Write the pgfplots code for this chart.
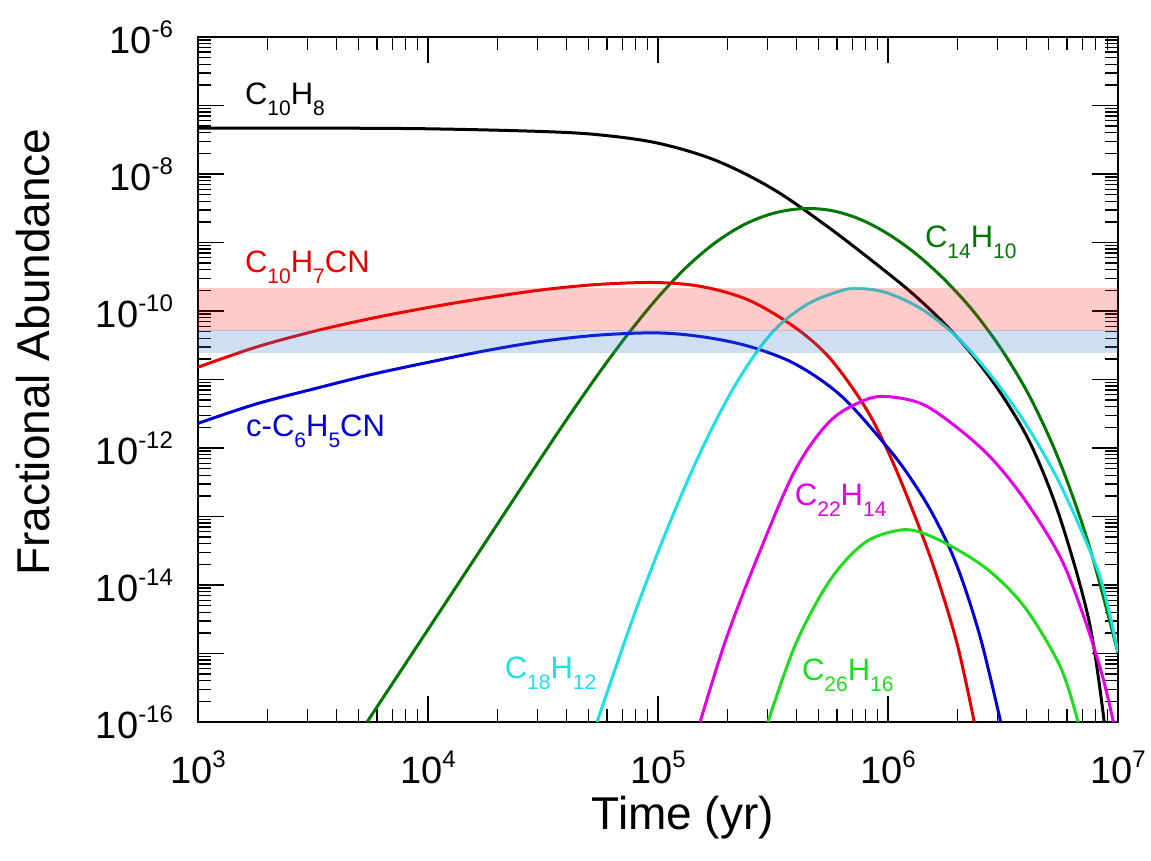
\documentclass[border=0pt]{standalone}
\usepackage{pgfplots}
\pgfplotsset{compat=1.18}
\usepackage{fontspec}
\setmainfont{Liberation Sans}

\definecolor{cdgreen}{RGB}{0,120,0}
\definecolor{cred}{RGB}{232,0,0}
\definecolor{cblue}{RGB}{0,0,215}
\definecolor{ccyan}{RGB}{30,225,230}
\definecolor{cmag}{RGB}{230,0,230}
\definecolor{clgreen}{RGB}{30,220,30}
\definecolor{bandred}{RGB}{250,20,20}
\definecolor{bandblue}{RGB}{60,130,200}

% tick label / species label helpers
\newcommand\tsup[1]{\raisebox{8pt}{\fontsize{12}{14}\selectfont #1}}
\newcommand\tsub[1]{\raisebox{-5.5pt}{\fontsize{10.5}{12}\selectfont #1}}

\begin{document}
\begin{tikzpicture}
\begin{axis}[
    scale only axis,
    width=460pt, height=342.5pt,
    xmode=log, ymode=log,
    xmin=1e3, xmax=1e7,
    ymin=1e-16, ymax=1e-6,
    xtick={1e3,1e4,1e5,1e6,1e7},
    xticklabels={10\tsup{3},10\tsup{4},10\tsup{5},10\tsup{6},10\tsup{7}},
    minor xtick={2e3,3e3,4e3,5e3,6e3,7e3,8e3,9e3,
                 2e4,3e4,4e4,5e4,6e4,7e4,8e4,9e4,
                 2e5,3e5,4e5,5e5,6e5,7e5,8e5,9e5,
                 2e6,3e6,4e6,5e6,6e6,7e6,8e6,9e6},
    ytick={1e-16,1e-15,1e-14,1e-13,1e-12,1e-11,1e-10,1e-9,1e-8,1e-7,1e-6},
    yticklabels={10\tsup{-16},{},10\tsup{-14},{},10\tsup{-12},{},10\tsup{-10},{},10\tsup{-8},{},10\tsup{-6}},
    minor ytick={2e-16,3e-16,4e-16,5e-16,6e-16,7e-16,8e-16,9e-16,
                 2e-15,3e-15,4e-15,5e-15,6e-15,7e-15,8e-15,9e-15,
                 2e-14,3e-14,4e-14,5e-14,6e-14,7e-14,8e-14,9e-14,
                 2e-13,3e-13,4e-13,5e-13,6e-13,7e-13,8e-13,9e-13,
                 2e-12,3e-12,4e-12,5e-12,6e-12,7e-12,8e-12,9e-12,
                 2e-11,3e-11,4e-11,5e-11,6e-11,7e-11,8e-11,9e-11,
                 2e-10,3e-10,4e-10,5e-10,6e-10,7e-10,8e-10,9e-10,
                 2e-9,3e-9,4e-9,5e-9,6e-9,7e-9,8e-9,9e-9,
                 2e-8,3e-8,4e-8,5e-8,6e-8,7e-8,8e-8,9e-8,
                 2e-7,3e-7,4e-7,5e-7,6e-7,7e-7,8e-7,9e-7},
    major tick length=13pt,
    minor tick length=6.5pt,
    tick align=inside,
    tick style={line width=0.7pt, black},
    axis line style={line width=1pt},
    xticklabel style={font=\fontsize{19}{21}\selectfont, yshift=-11pt},
    yticklabel style={font=\fontsize{19}{21}\selectfont, xshift=-9pt},
    xlabel={Time (yr)},
    ylabel={Fractional Abundance},
    xlabel style={font=\fontsize{23}{26}\selectfont, at={(axis description cs:0.527,-0.14)}, anchor=center},
    ylabel style={font=\fontsize{23}{26}\selectfont, at={(axis description cs:-0.179,0.54)}, anchor=center},
    every axis plot/.append style={line width=1.5pt, smooth, tension=0.55},
    clip=true,
]

% C10H8
\addplot[black] coordinates {
(1e3,4.677e-8)(3162,4.677e-8)(1e4,4.571e-8)(31623,4.169e-8)(56234,3.715e-8)
(1e5,2.818e-8)(177828,1.585e-8)(316228,6.026e-9)(562341,1.585e-9)(1e6,3.548e-10)
(1.334e6,1.585e-10)(1.778e6,6.310e-11)(2.371e6,2.113e-11)(3.162e6,5.623e-12)
(4.217e6,1.059e-12)(5.623e6,9.120e-14)(7.499e6,2.884e-15)(8.710e6,1e-16)
};

% C14H10
\addplot[cdgreen] coordinates {
(5433,1e-16)(1e4,2.239e-15)(17783,4.217e-14)(31623,7.943e-13)(42170,3.350e-12)
(56234,1.334e-11)(74989,4.870e-11)(1e5,1.585e-10)(133352,4.406e-10)(177828,1e-9)
(237137,1.830e-9)(316228,2.661e-9)(421697,3.119e-9)(562341,2.944e-9)(749894,2.208e-9)
(1e6,1.334e-9)(1.334e6,6.683e-10)(1.778e6,2.780e-10)(2.371e6,9.572e-11)(3.162e6,2.547e-11)
(4.217e6,4.943e-12)(5.623e6,5.875e-13)(7.499e6,3.707e-14)(1e7,1.014e-15)
};

% C10H7CN
\addplot[cred] coordinates {
(1e3,1.514e-11)(1778,2.951e-11)(3162,5.012e-11)(5623,7.762e-11)(1e4,1.122e-10)
(17783,1.549e-10)(31623,2.042e-10)(56234,2.455e-10)(1e5,2.600e-10)(158489,2.239e-10)
(251189,1.413e-10)(398107,5.623e-11)(562341,1.995e-11)(794328,3.981e-12)(1e6,8.913e-13)
(1.259e6,1.413e-13)(1.585e6,1.778e-14)(1.995e6,1.413e-15)(2.371e6,1e-16)
};

% c-C6H5CN
\addplot[cblue] coordinates {
(1e3,2.291e-12)(1778,4.365e-12)(3162,7.244e-12)(5623,1.175e-11)(1e4,1.778e-11)
(17783,2.630e-11)(31623,3.631e-11)(56234,4.467e-11)(1e5,4.786e-11)(158489,4.169e-11)
(251189,3.020e-11)(398107,1.660e-11)(630957,5.623e-12)(1e6,1e-12)(1.259e6,3.548e-13)
(1.585e6,1e-13)(1.995e6,1.905e-14)(2.512e6,1.778e-15)(3.090e6,1e-16)
};

% C18H12
\addplot[ccyan] coordinates {
(54325,1e-16)(79433,3.981e-15)(112202,7.943e-14)(158489,1.122e-12)(223872,1e-11)
(316228,5.012e-11)(446684,1.259e-10)(630957,1.995e-10)(758578,2.138e-10)(1e6,1.820e-10)
(1.413e6,1.047e-10)(1.995e6,4.169e-11)(2.818e6,1.122e-11)(3.981e6,2.213e-12)
(5.623e6,2.884e-13)(7.943e6,2.089e-14)(8.913e6,5.888e-15)(1e7,1.047e-15)
};

% C22H14
\addplot[cmag] coordinates {
(152405,1e-16)(199526,1.778e-15)(281838,3.548e-14)(398107,5.012e-13)(562341,2.512e-12)
(794328,5.012e-12)(1e6,5.623e-12)(1.413e6,4.365e-12)(1.995e6,1.995e-12)(2.818e6,7.079e-13)
(3.981e6,1.660e-13)(5.623e6,2.512e-14)(7.079e6,3.548e-15)(8.511e6,5.012e-16)(9.550e6,1e-16)
};

% C26H16
\addplot[clgreen] coordinates {
(300608,1e-16)(398107,1.413e-15)(562341,1.202e-14)(794328,4.169e-14)(1.122e6,6.310e-14)
(1.413e6,5.754e-14)(1.995e6,3.311e-14)(2.818e6,1.514e-14)(3.981e6,4.467e-15)
(5.623e6,6.310e-16)(6.699e6,1e-16)
};

% observed ranges
\addplot[draw=none, fill=bandred, fill opacity=0.22, line width=0pt, sharp plot] coordinates {
(1e3,5.1e-11)(1e7,5.1e-11)(1e7,2.14e-10)(1e3,2.14e-10)} -- cycle;
\addplot[draw=none, fill=bandblue, fill opacity=0.26, line width=0pt, sharp plot] coordinates {
(1e3,2.4e-11)(1e7,2.4e-11)(1e7,5.2e-11)(1e3,5.2e-11)} -- cycle;

\begin{scope}[font=\fontsize{15.5}{17}\selectfont]
\node[anchor=base west, text=black] at (axis cs:1493,1.02e-7) {C\tsub{10}H\tsub{8}};
\node[anchor=base west, text=cred] at (axis cs:1493,3.7e-10) {C\tsub{10}H\tsub{7}CN};
\node[anchor=base west, text=cblue] at (axis cs:1510,1.45e-12) {c-C\tsub{6}H\tsub{5}CN};
\node[anchor=base west, text=cdgreen] at (axis cs:1.35e6,8.59e-10) {C\tsub{14}H\tsub{10}};
\node[anchor=base west, text=cmag] at (axis cs:3.67e5,1.47e-13) {C\tsub{22}H\tsub{14}};
\node[anchor=base west, text=ccyan] at (axis cs:2.01e4,4.38e-16) {C\tsub{18}H\tsub{12}};
\node[anchor=base west, text=clgreen] at (axis cs:3.94e5,4.1e-16) {C\tsub{26}H\tsub{16}};
\end{scope}
\end{axis}
\pgfresetboundingbox
\path[use as bounding box] ([shift={(-99pt,-69.5pt)}]current axis.south west) rectangle ([shift={(16.5pt,18.5pt)}]current axis.north east);
\end{tikzpicture}
\end{document}
